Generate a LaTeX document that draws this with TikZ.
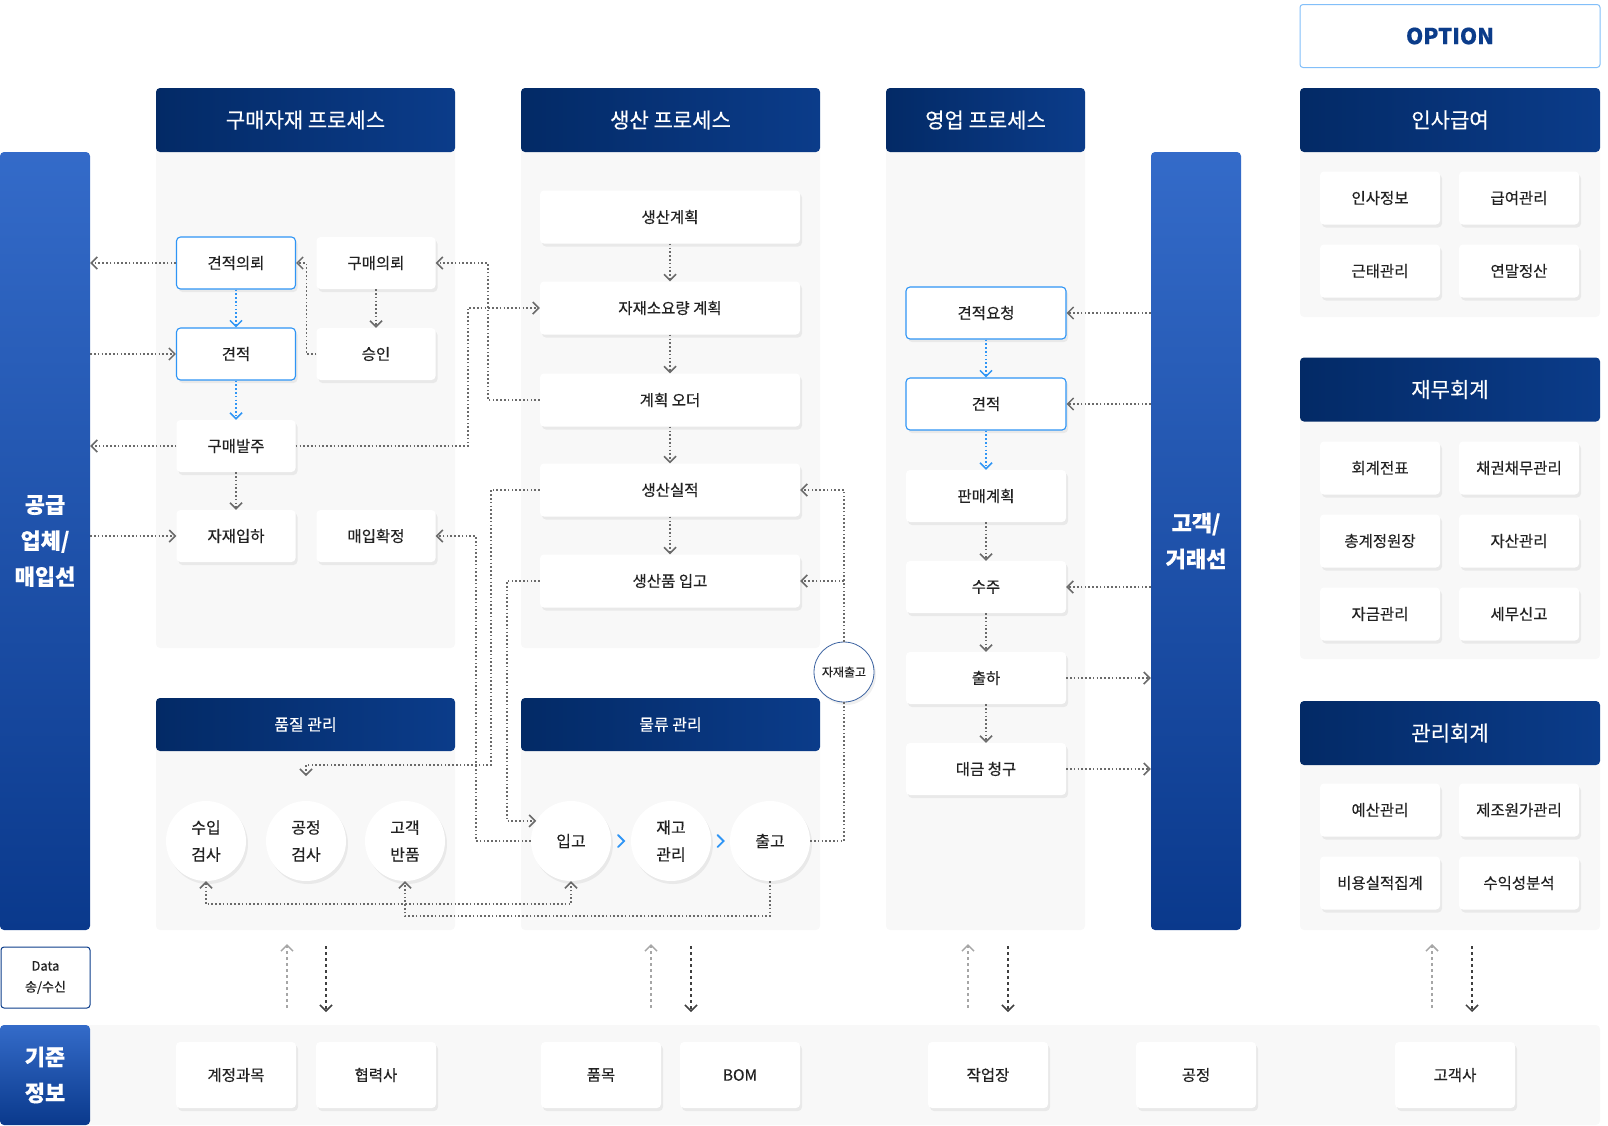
\documentclass[tikz,border=0pt]{standalone}
\usepackage{fontspec}
\setmainfont{Noto Sans CJK KR}[FakeBold=0.35]
\usetikzlibrary{arrows.meta,shadows,calc}

\definecolor{navyA}{HTML}{032A66}
\definecolor{navyB}{HTML}{0B3C8A}
\definecolor{barA}{HTML}{346BC9}
\definecolor{barB}{HTML}{0A398C}
\definecolor{panel}{HTML}{F8F8F8}
\definecolor{skyline}{HTML}{2F95F5}
\definecolor{dotgray}{HTML}{6A6A6A}
\definecolor{txt}{HTML}{222222}

\tikzset{
  hd/.style={rectangle, rounded corners=4, left color=navyA, right color=navyB,
    text=white, minimum height=64, inner sep=0, font=\fontsize{21}{24}\selectfont},
  subhd/.style={hd, minimum height=53, minimum width=299, font=\fontsize{16}{19}\selectfont},
  bar/.style={rectangle, rounded corners=4, top color=barA, bottom color=barB,
    text=white, align=center, inner sep=0, font=\fontsize{22}{36}\selectfont\bfseries},
  box/.style={rectangle, rounded corners=4, fill=white, text=txt, inner sep=0,
    minimum width=119, minimum height=52, font=\fontsize{15.5}{18}\selectfont,
    drop shadow={opacity=0.12, shadow xshift=2pt, shadow yshift=-3pt}},
  bluebox/.style={box, draw=skyline, line width=1.1pt},
  pbox/.style={box, minimum width=260, minimum height=53},
  sbox/.style={box, minimum width=160},
  ibox/.style={box, minimum width=120, minimum height=53},
  ball/.style={circle, fill=white, text=txt, minimum size=80, inner sep=0, align=center,
    font=\fontsize{16}{27}\selectfont,
    drop shadow={opacity=0.12, shadow xshift=2pt, shadow yshift=-3pt}},
  gline/.style={draw=dotgray, line width=1.6pt, dash pattern=on 1.6pt off 2.2pt, ->},
  bline/.style={gline, draw=skyline},
  upline/.style={draw=gray!70, line width=1.3pt, dashed, ->},
  downline/.style={draw=black!75, line width=1.3pt, dashed, ->},
  chev/.style={draw=skyline, line width=1.8pt, line cap=round}
}

\begin{document}
\begin{tikzpicture}[x=1pt,y=-1pt, >={Straight Barb[length=6pt,width=12pt,line width=1.5pt]}]
\useasboundingbox (0,0) rectangle (1608,1125);

% Panels
\fill[panel, rounded corners=4] (156,130) rectangle (455,648);
\fill[panel, rounded corners=4] (521,130) rectangle (820,648);
\fill[panel, rounded corners=4] (886,130) rectangle (1085,930);
\fill[panel, rounded corners=4] (1300,130) rectangle (1600,317);
\fill[panel, rounded corners=4] (1300,400) rectangle (1600,659);
\fill[panel, rounded corners=4] (1300,740) rectangle (1600,930);
\fill[panel, rounded corners=4] (156,730) rectangle (455,930);
\fill[panel, rounded corners=4] (521,730) rectangle (820,930);
\fill[panel, rounded corners=4] (60,1025) rectangle (1600,1125);

% Headers
\node[draw=skyline!60, line width=1pt, fill=white, rounded corners=3, minimum width=300,
  minimum height=63, text=navyB, font=\fontsize{22}{26}\selectfont\bfseries] (opt) at (1450,36) {OPTION};
\node[hd, minimum width=299] (hbuy) at (305.5,120) {구매자재 프로세스};
\node[hd, minimum width=299] (hprod) at (670.5,120) {생산 프로세스};
\node[hd, minimum width=199] (hsale) at (985.5,120) {영업 프로세스};
\node[hd, minimum width=300] (hhr) at (1450,120) {인사급여};
\node[hd, minimum width=300] (hfin) at (1450,389.5) {재무회계};
\node[hd, minimum width=300] (hmgmt) at (1450,733) {관리회계};
\node[subhd] (hqual) at (305.5,724.5) {품질 관리};
\node[subhd] (hlog) at (670.5,724.5) {물류 관리};

% Side bars
\node[bar, minimum width=90, minimum height=778] (sup) at (45,541) {공급\\업체/\\매입선};
\node[bar, minimum width=90, minimum height=778] (cust) at (1196,541) {고객/\\거래선};
\node[bar, minimum width=90, minimum height=100] (base) at (45,1075) {기준\\정보};
\node[draw=navyB, line width=1pt, rounded corners=3, fill=white, minimum width=89,
  minimum height=61, inner sep=0, align=center, text=txt,
  font=\fontsize{13}{21}\selectfont] (data) at (45.5,977.5) {Data\\송/수신};

% Purchase
\node[bluebox] (qreq) at (236,263) {견적의뢰};
\node[box] (preq) at (376,263) {구매의뢰};
\node[bluebox] (quo) at (236,354) {견적};
\node[box] (appr) at (376,354) {승인};
\node[box] (po) at (236,446) {구매발주};
\node[box] (arr) at (236,536) {자재입하};
\node[box] (bconf) at (376,536) {매입확정};

% Production
\node[pbox] (pplan) at (670,217) {생산계획};
\node[pbox] (mrp) at (670,308) {자재소요량 계획};
\node[pbox] (plord) at (670,400) {계획 오더};
\node[pbox] (pres) at (670,490) {생산실적};
\node[pbox] (pin) at (670,581) {생산품 입고};

% Sales
\node[sbox, draw=skyline, line width=1.1pt] (sreq) at (986,313) {견적요청};
\node[sbox, draw=skyline, line width=1.1pt] (squo) at (986,404) {견적};
\node[sbox] (splan) at (986,496) {판매계획};
\node[sbox] (sord) at (986,587) {수주};
\node[sbox] (sship) at (986,678) {출하};
\node[sbox] (sbill) at (986,769) {대금 청구};

% Option modules
\foreach \name/\lbl/\x/\y in {hr1/인사정보/1380/198, hr2/급여관리/1519/198,
    hr3/근태관리/1380/271, hr4/연말정산/1519/271,
    fi1/회계전표/1380/468, fi2/채권채무관리/1519/468,
    fi3/총계정원장/1380/541, fi4/자산관리/1519/541,
    fi5/자금관리/1380/614, fi6/세무신고/1519/614,
    mg1/예산관리/1380/810, mg2/제조원가관리/1519/810,
    mg3/비용실적집계/1380/883, mg4/수익성분석/1519/883}
  \node[ibox] (\name) at (\x,\y) {\lbl};

% Quality and logistics
\node[ball] (qin) at (206,841) {수입\\검사};
\node[ball] (qproc) at (306,841) {공정\\검사};
\node[ball] (qret) at (405,841) {고객\\반품};
\node[ball] (lin) at (571,841) {입고};
\node[ball] (lstk) at (671,841) {재고\\관리};
\node[ball] (lout) at (770,841) {출고};
\node[circle, draw=navyB!80, line width=0.8pt, fill=white, minimum size=60, inner sep=0,
  text=txt, font=\fontsize{12}{14}\selectfont,
  drop shadow={opacity=0.12, shadow xshift=2pt, shadow yshift=-3pt}] (matout) at (844,672) {자재출고};
\draw[chev] ($(lin.east)!0.5!(lstk.west)+(-3,-6)$) -- ++(6,6) -- ++(-6,6);
\draw[chev] ($(lstk.east)!0.5!(lout.west)+(-3,-6)$) -- ++(6,6) -- ++(-6,6);

% Base data
\foreach \name/\lbl/\x in {bacc/계정과목/236, bpar/협력사/376, bitem/품목/601, bbom/BOM/740,
    bwork/작업장/988, bproc/공정/1196, bcus/고객사/1455}
  \node[box, minimum width=120, minimum height=66] (\name) at (\x,1075) {\lbl};

% Data arrows
\foreach \u/\d in {287/326, 651/691, 968/1008, 1432/1472} {
  \draw[upline] (\u,1008) -- (\u,944);
  \draw[downline] (\d,946) -- (\d,1012);
}

% Purchase links
\draw[gline] (qreq.west) -- (qreq.west -| sup.east);
\draw[gline] (quo.west -| sup.east) -- (quo.west);
\draw[gline] (po.west) -- (po.west -| sup.east);
\draw[gline] (arr.west -| sup.east) -- (arr.west);
\draw[bline] (qreq) -- (quo);
\draw[bline] (quo) -- (po);
\draw[gline] (preq) -- (appr);
\draw[gline] (po) -- (arr);
\draw[gline] (appr.west) -- ++(-10,0) |- (qreq.east);
\draw[gline] (plord.west) -- ++(-52,0) |- (preq.east);
\draw[gline] (po.east) -- ++(172,0) |- (mrp.west);

% Production links
\foreach \a/\b in {pplan/mrp, mrp/plord, plord/pres, pres/pin}
  \draw[gline] (\a) -- (\b);
\coordinate (qtop) at (306,776);
\draw[gline] (pres.west) -- ++(-49,0) -- ++(0,275) -| (qtop);
\draw[gline] (pin.west) -- ++(-33,0) |- (lin.150);
\draw[gline] (lin.west) -- ++(-55,0) |- (bconf.east);
\draw[gline, -] (lout.east) -| (matout.south);
\draw[gline] (matout.north) |- (pres.east);
\draw[gline] (matout.north |- pin.east) -- (pin.east);

% Quality links
\draw[gline, <->] (qin.south) -- ++(0,23) -| (lin.south);
\draw[gline] (lout.south) -- ++(0,35) -| (qret.south);

% Sales links
\draw[gline] (sreq.east -| cust.west) -- (sreq.east);
\draw[gline] (squo.east -| cust.west) -- (squo.east);
\draw[gline] (sord.east -| cust.west) -- (sord.east);
\draw[gline] (sship.east) -- (sship.east -| cust.west);
\draw[gline] (sbill.east) -- (sbill.east -| cust.west);
\draw[bline] (sreq) -- (squo);
\draw[bline] (squo) -- (splan);
\foreach \a/\b in {splan/sord, sord/sship, sship/sbill}
  \draw[gline] (\a) -- (\b);
\end{tikzpicture}
\end{document}
